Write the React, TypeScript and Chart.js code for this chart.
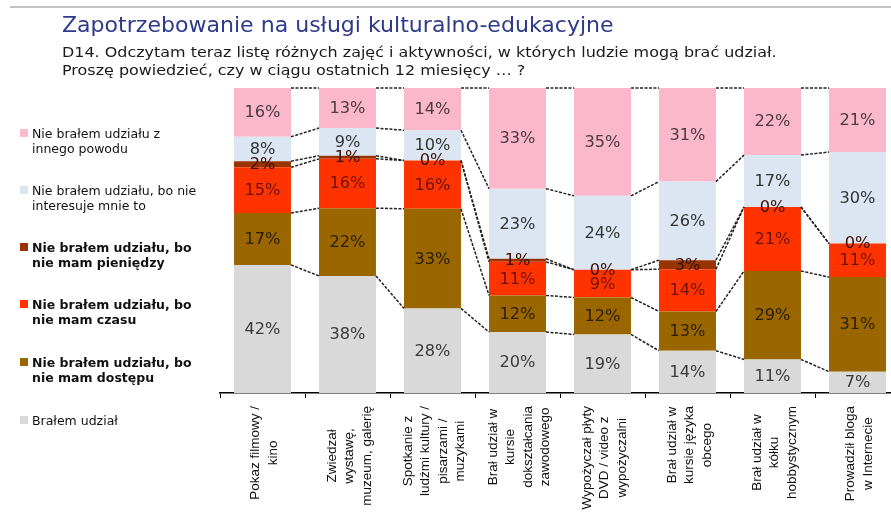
import React, { useEffect, useRef } from 'react';
import { Chart, registerables } from 'chart.js';

Chart.register(...registerables);

const categories: string[][] = [
  ['Pokaz filmowy /', 'kino'],
  ['Zwiedzał', 'wystawę,', 'muzeum, galerię'],
  ['Spotkanie z', 'ludźmi kultury /', 'pisarzami /', 'muzykami'],
  ['Brał udział w', 'kursie', 'dokształcania', 'zawodowego'],
  ['Wypożyczał płyty', 'DVD / video z', 'wypożyczalni'],
  ['Brał udział w', 'kursie języka', 'obcego'],
  ['Brał udział w', 'kółku', 'hobbystycznym'],
  ['Prowadził bloga', 'w Internecie'],
];

const bralUdzial = [42, 38, 28, 20, 19, 14, 11, 7];
const brakDostepu = [17, 22, 33, 12, 12, 13, 29, 31];
const brakCzasu = [15, 16, 16, 11, 9, 14, 21, 11];
const brakPieniedzy = [2, 1, 0, 1, 0, 3, 0, 0];
const nieInteresuje = [8, 9, 10, 23, 24, 26, 17, 30];
const innyPowod = [16, 13, 14, 33, 35, 31, 22, 21];

const seriesNames = [
  'Brałem udział',
  'Nie brałem udziału, bo nie mam dostępu',
  'Nie brałem udziału, bo nie mam czasu',
  'Nie brałem udziału, bo nie mam pieniędzy',
  'Nie brałem udziału, bo nie interesuje mnie to',
  'Nie brałem udziału z innego powodu',
];
const seriesValues = [bralUdzial, brakDostepu, brakCzasu, brakPieniedzy, nieInteresuje, innyPowod];
const seriesColors = ['#D9D9D9', '#996600', '#FF3300', '#993300', '#DCE6F2', '#FBB8CA'];
const labelColors = ['#3a3a3a', '#2b1d00', '#6e1200', '#3a1000', '#333333', '#4a3a44'];

const legendItems = [
  { lines: ['Nie brałem udziału z', 'innego powodu'], color: '#FBB8CA', bold: false, y: 133 },
  { lines: ['Nie brałem udziału, bo nie', 'interesuje mnie to'], color: '#DCE6F2', bold: false, y: 190 },
  { lines: ['Nie brałem udziału, bo', 'nie mam pieniędzy'], color: '#993300', bold: true, y: 247 },
  { lines: ['Nie brałem udziału, bo', 'nie mam czasu'], color: '#FF3300', bold: true, y: 304 },
  { lines: ['Nie brałem udziału, bo', 'nie mam dostępu'], color: '#996600', bold: true, y: 362 },
  { lines: ['Brałem udział'], color: '#D9D9D9', bold: false, y: 420 },
];

const overlayPlugin = {
  id: 'overlay',
  afterDatasetsDraw(chart: any) {
    const ctx = chart.ctx;
    const n = categories.length;
    // connector lines
    ctx.save();
    ctx.strokeStyle = '#222';
    ctx.lineWidth = 1.5;
    ctx.setLineDash([3, 1.5]);
    for (let k = 0; k < seriesValues.length; k++) {
      const meta = chart.getDatasetMeta(k);
      for (let i = 0; i < n - 1; i++) {
        const a = meta.data[i] as any;
        const b = meta.data[i + 1] as any;
        ctx.beginPath();
        ctx.moveTo(a.x + a.width / 2, a.y);
        ctx.lineTo(b.x - b.width / 2, b.y);
        ctx.stroke();
      }
    }
    ctx.restore();
    // value labels
    ctx.save();
    ctx.font = '15px "DejaVu Sans"';
    ctx.textAlign = 'center';
    ctx.textBaseline = 'middle';
    for (let k = 0; k < seriesValues.length; k++) {
      const meta = chart.getDatasetMeta(k);
      ctx.fillStyle = labelColors[k];
      for (let i = 0; i < n; i++) {
        const el = meta.data[i] as any;
        const cx = el.x;
        const cy = (el.y + el.base) / 2 + 1;
        ctx.save();
        ctx.translate(cx, cy);
        ctx.scale(1.08, 1);
        ctx.fillText(seriesValues[k][i] + '%', 0, 0);
        ctx.restore();
      }
    }
    ctx.restore();
  },
  afterDraw(chart: any) {
    const ctx = chart.ctx;
    const xs = chart.scales.x;
    ctx.save();
    ctx.font = '13.5px "Liberation Sans"';
    ctx.fillStyle = '#111';
    ctx.textAlign = 'center';
    ctx.textBaseline = 'middle';
    const spacing = 17.5;
    categories.forEach((lines, i) => {
      const x = xs.getPixelForValue(i);
      const maxW = Math.max(...lines.map((l) => ctx.measureText(l).width));
      const cy = xs.bottom + 8 + maxW / 2;
      lines.forEach((line, j) => {
        const lx = x + 2 + (j - (lines.length - 1) / 2) * spacing;
        ctx.save();
        ctx.translate(lx, cy);
        ctx.rotate(-Math.PI / 2);
        ctx.fillText(line, 0, 0);
        ctx.restore();
      });
    });
    ctx.restore();
  },
};

export default function App() {
  const ref = useRef<HTMLCanvasElement>(null);
  useEffect(() => {
    if (!ref.current) return;
    const totals = categories.map((_, i) => seriesValues.reduce((s, arr) => s + arr[i], 0));
    const datasets = seriesValues.map((vals, k) => ({
      label: seriesNames[k],
      data: vals.map((v, i) => (v / totals[i]) * 100),
      backgroundColor: seriesColors[k],
      borderWidth: 0,
      barPercentage: 0.67,
      categoryPercentage: 1,
    }));
    const chart = new Chart(ref.current, {
      type: 'bar',
      data: { labels: categories.map((c) => c.join(' ')), datasets },
      options: {
        responsive: false,
        animation: false,
        devicePixelRatio: 1,
        layout: { padding: { left: 220, right: 5, top: 88, bottom: 114 } },
        plugins: { legend: { display: false }, tooltip: { enabled: false } },
        scales: {
          x: {
            stacked: true,
            offset: true,
            ticks: { display: false },
            grid: {
              display: true,
              drawOnChartArea: false,
              drawTicks: true,
              tickLength: 5,
              color: '#000',
              lineWidth: 1,
              offset: true,
            },
            border: { display: true, color: '#000', width: 1.5 },
          },
          y: { stacked: true, min: 0, max: 100, display: false },
        },
      },
      plugins: [overlayPlugin],
    });
    return () => chart.destroy();
  }, []);

  return (
    <div
      style={{
        position: 'fixed',
        left: 0,
        top: 0,
        width: 891,
        height: 512,
        overflow: 'hidden',
        background: '#fff',
        fontFamily: '"DejaVu Sans", sans-serif',
      }}
    >
      <div style={{ position: 'absolute', left: 10, top: 6, width: 881, height: 1.5, background: '#c4c4c4' }} />
      <canvas ref={ref} width={905} height={512} style={{ position: 'absolute', left: 0, top: 0 }} />
      <div
        style={{
          position: 'absolute',
          left: 62,
          top: 13,
          fontSize: 21,
          color: '#2E3A8A',
          whiteSpace: 'nowrap',
          lineHeight: 'normal',
          transform: 'scaleX(1.05)',
          transformOrigin: 'left top',
        }}
      >
        Zapotrzebowanie na usługi kulturalno-edukacyjne
      </div>
      <div
        style={{
          position: 'absolute',
          left: 62,
          top: 43,
          fontSize: 14,
          lineHeight: '18px',
          color: '#1a1a1a',
          whiteSpace: 'nowrap',
          transform: 'scaleX(1.14)',
          transformOrigin: 'left top',
        }}
      >
        <div>D14. Odczytam teraz listę różnych zajęć i aktywności, w których ludzie mogą brać udział.</div>
        <div>Proszę powiedzieć, czy w ciągu ostatnich 12 miesięcy … ?</div>
      </div>
      {legendItems.map((it, idx) => (
        <div key={idx}>
          <div
            style={{
              position: 'absolute',
              left: 20,
              top: it.y - 4,
              width: 8,
              height: 8,
              background: it.color,
            }}
          />
          <div
            style={{
              position: 'absolute',
              left: 32,
              top: it.y - 7.5,
              fontSize: 12.5,
              lineHeight: '15px',
              fontWeight: it.bold ? 'bold' : 'normal',
              color: '#111',
              whiteSpace: 'nowrap',
            }}
          >
            {it.lines.map((l, j) => (
              <div key={j}>{l}</div>
            ))}
          </div>
        </div>
      ))}
    </div>
  );
}
